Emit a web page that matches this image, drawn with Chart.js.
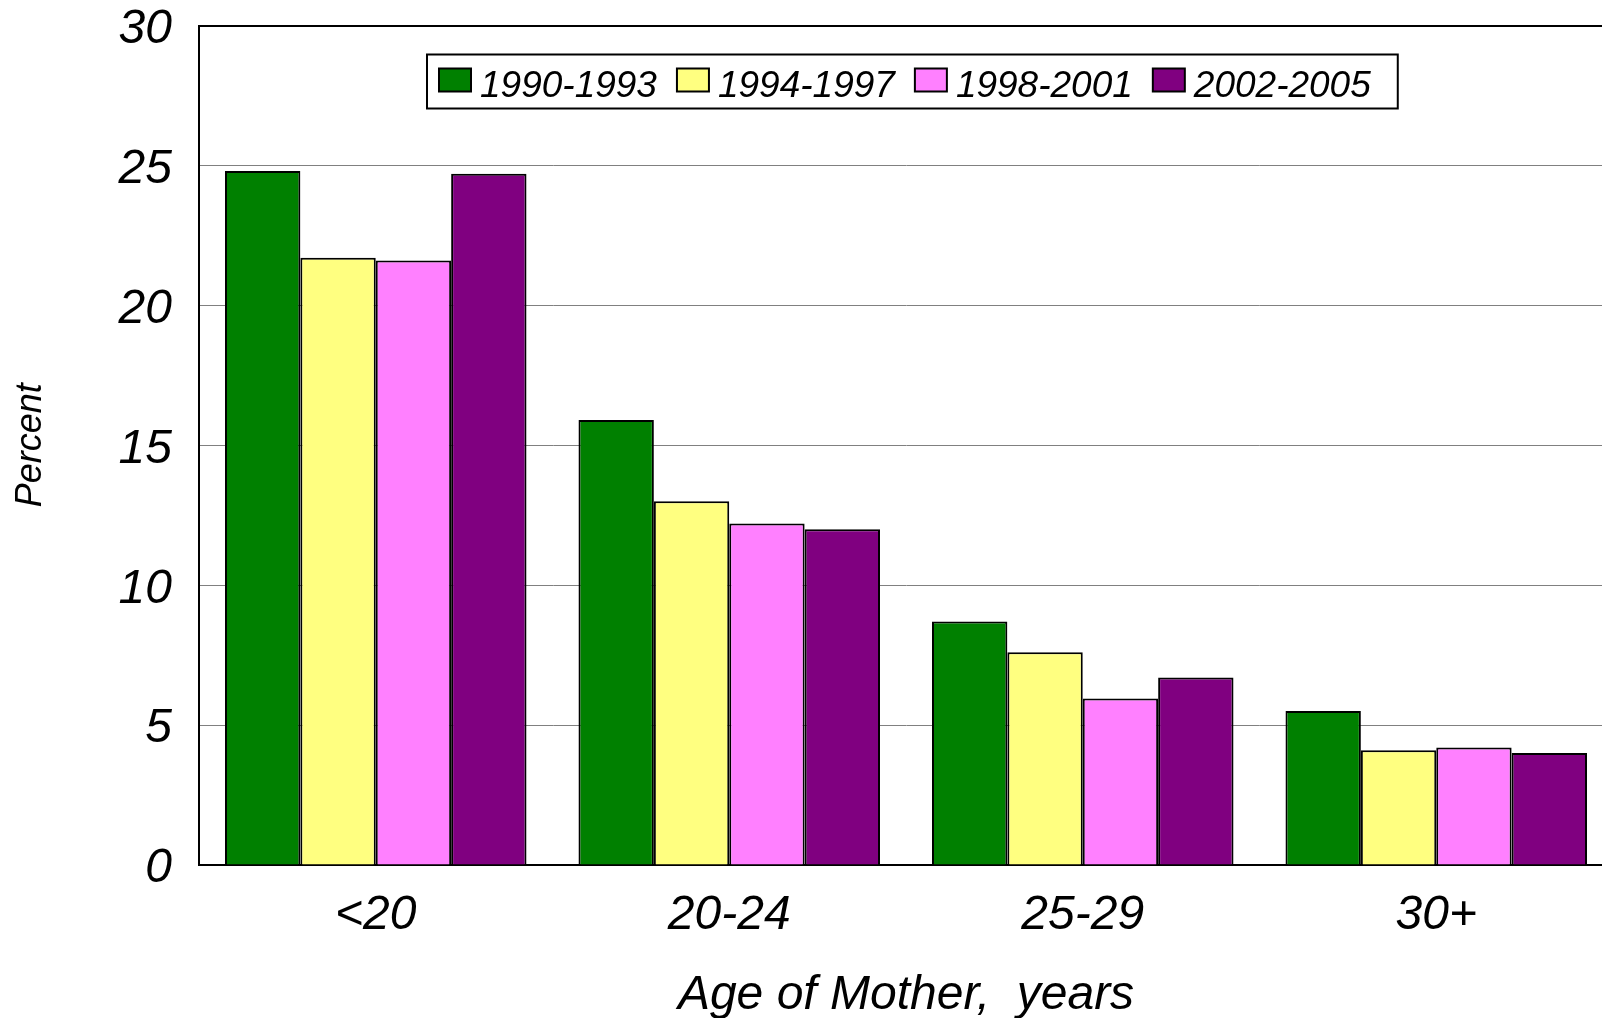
<!DOCTYPE html>
<html>
<head>
<meta charset="utf-8">
<script src="https://cdn.jsdelivr.net/npm/chart.js@4"></script>
<style>
  html, body { margin: 0; padding: 0; background: #fff; overflow: hidden; }
  #wrap { position: relative; width: 1640px; height: 1018px; }
</style>
</head>
<body>
<div id="wrap"><canvas id="bar-chart"></canvas></div>
<script>
// Age groups and percent per period
const categories = ["<20", "20-24", "25-29", "30+"];
const periods = ["1990-1993", "1994-1997", "1998-2001", "2002-2005"];
const p1990 = [24.8, 15.9, 8.7, 5.5];
const p1994 = [21.7, 13.0, 7.6, 4.1];
const p1998 = [21.6, 12.2, 5.95, 4.2];
const p2002 = [24.7, 12.0, 6.7, 4.0];
const colors = ["#008000", "#FFFF80", "#FF80FF", "#800080"];

const font = "Liberation Sans";

// legend drawn inside the plot, with a box round it
const legendBox = {
  id: "legendBox",
  afterDraw(chart) {
    const { ctx, chartArea } = chart;
    const sw = 32, sh = 23, gap = 9, itemGap = 20;
    const left = chartArea.left + 228, top = chartArea.top + 29, h = 54;
    ctx.save();
    ctx.font = "italic 37px '" + font + "'";
    const widths = chart.data.datasets.map(ds => ctx.measureText(ds.label).width);
    const inner = widths.reduce((a, w) => a + sw + gap + w, 0) + itemGap * (widths.length - 1);
    const w = inner + 12 + 27;
    ctx.fillStyle = "#fff";
    ctx.fillRect(left, top, w, h);
    ctx.lineWidth = 2;
    ctx.strokeStyle = "#000";
    ctx.strokeRect(left, top, w, h);
    let x = left + 12;
    chart.data.datasets.forEach((ds, i) => {
      ctx.fillStyle = ds.backgroundColor;
      ctx.fillRect(x, top + 14, sw, sh);
      ctx.strokeRect(x, top + 14, sw, sh);
      ctx.fillStyle = "#000";
      ctx.textBaseline = "alphabetic";
      ctx.fillText(ds.label, x + sw + gap, top + 42);
      x += sw + gap + widths[i] + itemGap;
    });
    ctx.restore();
  }
};

const datasets = [p1990, p1994, p1998, p2002].map((d, i) => ({
  label: periods[i],
  data: d,
  backgroundColor: colors[i],
  borderColor: "#000",
  borderWidth: 2,
  categoryPercentage: 0.853,
  barPercentage: 1.0
}));

new Chart(document.getElementById("bar-chart"), {
  type: "bar",
  data: { labels: categories, datasets: datasets },
  plugins: [legendBox],
  options: {
    responsive: true,
    maintainAspectRatio: false,
    animation: false,
    layout: { padding: { top: 0, right: 27, left: 0, bottom: 0 } },
    plugins: {
      legend: { display: false },
      tooltip: { enabled: false }
    },
    scales: {
      x: {
        grid: { display: false, drawTicks: false },
        border: { display: true, color: "#000", width: 2 },
        ticks: {
          color: "#000",
          padding: 22,
          font: { family: font, size: 48, style: "italic" }
        },
        title: {
          display: true,
          text: "Age of Mother,  years",
          color: "#000",
          padding: { top: 0, bottom: 0 },
          font: { family: font, size: 48, style: "italic", lineHeight: 0.95 }
        },
        afterFit: s => { s.height = 153; }
      },
      y: {
        min: 0,
        max: 30,
        grid: {
          drawTicks: false,
          color: c => c.tick && c.tick.value === 30 ? "#000" : "#808080",
          lineWidth: c => c.tick && c.tick.value === 30 ? 2 : 1
        },
        border: { display: true, color: "#000", width: 2 },
        ticks: {
          stepSize: 5,
          color: "#000",
          padding: 27,
          labelOffset: 4,
          font: { family: font, size: 48, style: "italic" }
        },
        title: {
          display: true,
          text: "Percent",
          color: "#000",
          padding: { top: 9, bottom: 0 },
          font: { family: font, size: 36, style: "italic" }
        },
        afterFit: s => { s.width = 199; s.paddingTop = 25.5; }
      }
    }
  }
});
</script>
</body>
</html>
